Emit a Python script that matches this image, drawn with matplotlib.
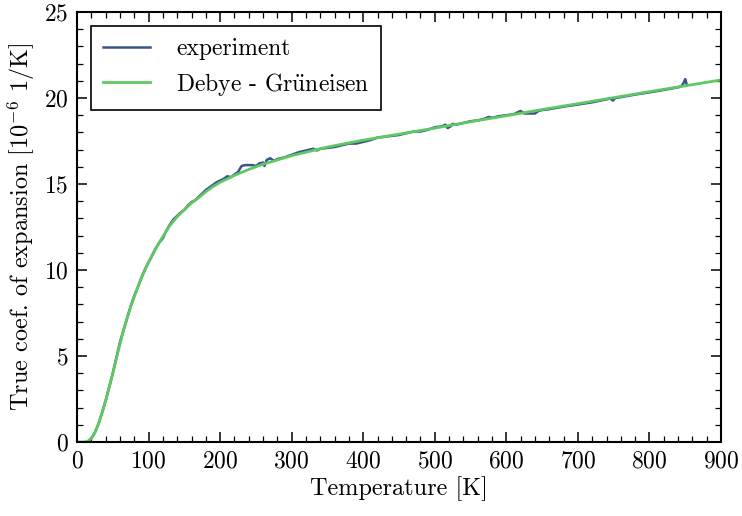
import numpy as np
import matplotlib
matplotlib.use('Agg')
import matplotlib.pyplot as plt
from matplotlib.ticker import MultipleLocator

# 实验数据 (温度 K, 膨胀系数 1e-6 1/K)
T_exp = [15, 20, 25, 30, 35, 40, 45, 50, 55, 60, 65, 70, 75, 80, 85, 90, 95, 100,
         105, 110, 115, 120, 125, 130, 135, 140, 145, 150, 155, 160, 165, 170, 175,
         180, 185, 190, 195, 200, 205, 210, 215, 220, 225, 230, 235, 240, 245, 250,
         255, 260, 262, 265, 270, 275, 280, 290, 300, 310, 320, 330, 335, 340, 350,
         360, 370, 380, 390, 400, 410, 420, 430, 440, 450, 460, 470, 480, 490, 500,
         510, 515, 518, 522, 525, 530, 540, 550, 560, 570, 575, 580, 590, 600, 610,
         620, 625, 630, 640, 645, 650, 660, 680, 700, 720, 740, 745, 749, 752, 760,
         780, 800, 820, 840, 845, 848, 850, 852]
a_exp = [0.02, 0.2, 0.55, 1.05, 1.7, 2.4, 3.2, 4.0, 4.9, 5.8, 6.5, 7.2, 7.9, 8.5,
         9.0, 9.55, 10.05, 10.45, 10.85, 11.25, 11.6, 11.85, 12.3, 12.65, 12.95, 13.15,
         13.35, 13.5, 13.75, 13.95, 14.05, 14.25, 14.45, 14.65, 14.8, 14.95, 15.1, 15.2,
         15.3, 15.45, 15.4, 15.55, 15.7, 16.05, 16.1, 16.1, 16.1, 16.05, 16.2, 16.25,
         16.05, 16.4, 16.5, 16.35, 16.45, 16.55, 16.7, 16.85, 16.95, 17.05, 16.95,
         17.05, 17.1, 17.15, 17.25, 17.35, 17.35, 17.45, 17.55, 17.7, 17.75, 17.8,
         17.85, 17.95, 18.05, 18.05, 18.15, 18.3, 18.35, 18.45, 18.25, 18.35, 18.5,
         18.45, 18.55, 18.65, 18.7, 18.8, 18.9, 18.85, 18.95, 19.0, 19.05, 19.25,
         19.1, 19.1, 19.1, 19.25, 19.3, 19.35, 19.5, 19.62, 19.75, 19.92, 19.98,
         19.85, 20.0, 20.05, 20.2, 20.33, 20.47, 20.62, 20.7, 20.9, 21.1, 20.8]

# Debye-Grüneisen 模型曲线
T_dg = [0, 10, 15, 20, 25, 30, 35, 40, 45, 50, 55, 60, 65, 70, 75, 80, 90, 100, 110,
        120, 130, 140, 150, 160, 170, 180, 190, 200, 220, 240, 260, 280, 300, 325,
        350, 375, 400, 450, 500, 550, 600, 650, 700, 750, 800, 850, 900]
a_dg = [0.0, 0.0, 0.05, 0.2, 0.55, 1.05, 1.7, 2.4, 3.2, 4.0, 4.85, 5.7, 6.5,
        7.2, 7.85, 8.45, 9.55, 10.45, 11.25, 11.95, 12.6, 13.1, 13.5, 13.9, 14.2, 14.55,
        14.85, 15.1, 15.5, 15.85, 16.15, 16.4, 16.65, 16.9, 17.15, 17.35, 17.55, 17.9,
        18.25, 18.62, 18.97, 19.33, 19.67, 20.02, 20.37, 20.71, 21.05]

plt.rcParams['font.family'] = ['cmr10', 'DejaVu Serif']
plt.rcParams['mathtext.fontset'] = 'cm'
plt.rcParams['axes.unicode_minus'] = False
plt.rcParams['axes.formatter.use_mathtext'] = True

fig = plt.figure(figsize=(7.42, 5.16), dpi=100)
ax = fig.add_axes([0.1038, 0.1434, 0.8679, 0.8333])

ax.plot(T_exp, a_exp, color='#3b528b', lw=1.8, label='experiment')
ax.plot(T_dg, a_dg, color='#5ec962', lw=2.0, label=r'Debye - Gr$\ddot{\mathrm{u}}$neisen')

ax.set_xlim(0, 900)
ax.set_ylim(0, 25)
ax.xaxis.set_major_locator(MultipleLocator(100))
ax.xaxis.set_minor_locator(MultipleLocator(20))
ax.yaxis.set_major_locator(MultipleLocator(5))
ax.yaxis.set_minor_locator(MultipleLocator(1))
ax.tick_params(which='both', direction='in', top=True, right=True, labelsize=17)
ax.tick_params(which='major', length=7, width=1.1, pad=6)
ax.tick_params(which='minor', length=4, width=0.9)
for s in ax.spines.values():
    s.set_linewidth(1.5)

ax.set_xlabel('Temperature [K]', fontsize=17.5, labelpad=3)
ax.set_ylabel(r'True coef. of expansion [$10^{-6}$ 1/K]', fontsize=17.5, labelpad=5)

leg = ax.legend(loc='upper left', fontsize=17, fancybox=False, edgecolor='black',
                framealpha=1, handlelength=2.0, borderpad=0.5, labelspacing=0.45,
                handletextpad=1.1, borderaxespad=0.6)
leg.get_frame().set_linewidth(1.2)

fig.savefig('out.png', dpi=100)
